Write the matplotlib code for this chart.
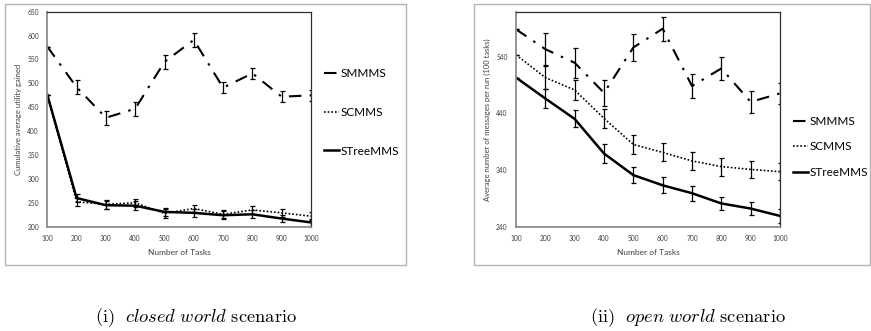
import matplotlib.pyplot as plt
from matplotlib.patches import Rectangle
from matplotlib.lines import Line2D

plt.rcParams['font.family'] = ['Lato', 'DejaVu Sans']
plt.rcParams['mathtext.fontset'] = 'cm'

tareas = [100, 200, 300, 400, 500, 600, 700, 800, 900, 1000]
series = ["SMMMS", "SCMMS", "STreeMMS"]

# (i) mundo cerrado
cerrado_smmms = [577, 492, 428, 447, 545, 591, 491, 521, 472, 475]
cerrado_smmms_err = [0, 15, 15, 15, 14, 14, 12, 12, 12, 12]
cerrado_scmms = [476, 252, 247, 250, 228, 238, 226, 235, 229, 222]
cerrado_scmms_err = [0, 9, 9, 9, 9, 8, 8, 8, 8, 8]
cerrado_stree = [476, 260, 245, 244, 231, 229, 224, 226, 217, 209]
cerrado_stree_err = [0, 9, 9, 9, 9, 8, 8, 8, 8, 8]

# (ii) mundo abierto
abierto_smmms = [588, 553, 529, 476, 556, 589, 488, 519, 460, 475]
abierto_smmms_err = [0, 28, 26, 23, 23, 21, 21, 20, 19, 18]
abierto_scmms = [543, 503, 481, 431, 385, 371, 356, 346, 341, 337]
abierto_scmms_err = [0, 20, 18, 17, 16, 16, 16, 16, 15, 15]
abierto_stree = [503, 466, 430, 369, 331, 313, 299, 281, 272, 259]
abierto_stree_err = [0, 16, 15, 16, 14, 14, 13, 12, 12, 12]

estilos = {
    "SMMMS": dict(linestyle=(0, (6, 4, 1.2, 4)), linewidth=1.5),
    "SCMMS": dict(linestyle=(0, (1, 1.2)), linewidth=1.2),
    "STreeMMS": dict(linestyle="-", linewidth=1.8),
}

fig = plt.figure(figsize=(8.71, 3.31), dpi=100)

# marcos grises alrededor de cada grafica
fig.patches.append(Rectangle((5 / 871, 1 - 265 / 331), 401 / 871, 261 / 331,
                             transform=fig.transFigure, fill=False,
                             edgecolor="#b4b4b4", linewidth=1))
fig.patches.append(Rectangle((474 / 871, 1 - 265 / 331), 396 / 871, 261 / 331,
                             transform=fig.transFigure, fill=False,
                             edgecolor="#b4b4b4", linewidth=1))


def graficar(ax, datos, ylim, yticks, ylabel):
    for nombre, (vals, err) in zip(series, datos):
        ax.errorbar(tareas, vals, yerr=err, color="black", capsize=1.8,
                    elinewidth=0.9, capthick=0.9, **estilos[nombre])
    ax.set_xlim(100, 1000)
    ax.set_ylim(*ylim)
    ax.set_xticks(tareas)
    ax.set_yticks(yticks)
    ax.tick_params(length=0, labelsize=4.8, colors="#404040", pad=6)
    ax.set_xlabel("Number of Tasks", fontsize=6, color="#404040", labelpad=5)
    ax.set_ylabel(ylabel, fontsize=5.5, color="#404040", labelpad=4)
    for s in ax.spines.values():
        s.set_color("#303030")
        s.set_linewidth(0.9)
    ax.spines["left"].set_color("#8c8c8c")
    ax.spines["bottom"].set_color("#8c8c8c")
    ax.spines["left"].set_linewidth(1.3)
    ax.spines["bottom"].set_linewidth(1.3)


def leyenda(ax, y, espacio):
    manejadores = [Line2D([], [], color="black", **estilos[n]) for n in series]
    ax.legend(manejadores, series, loc="upper left", bbox_to_anchor=(1.03, y),
              frameon=False, fontsize=8.5, handlelength=1.3, handletextpad=0.15,
              labelspacing=espacio, borderaxespad=0)


ax1 = fig.add_axes([47.3 / 871, 1 - 226.7 / 331, 263.7 / 871, 215 / 331])
graficar(ax1, [(cerrado_smmms, cerrado_smmms_err),
               (cerrado_scmms, cerrado_scmms_err),
               (cerrado_stree, cerrado_stree_err)],
         (200, 650), range(200, 651, 50), "Cumulative average utility gained")
leyenda(ax1, 0.76, 2.35)

ax2 = fig.add_axes([516 / 871, 1 - 226.7 / 331, 264 / 871, 214.4 / 331])
graficar(ax2, [(abierto_smmms, abierto_smmms_err),
               (abierto_scmms, abierto_scmms_err),
               (abierto_stree, abierto_stree_err)],
         (240, 618), [240, 340, 440, 540], "Average number of messages per run (100 tasks)")
leyenda(ax2, 0.54, 1.25)

fig.text(196 / 871, 1 - 318 / 331, r"$\mathrm{(i)}\ \ \mathit{closed\ world}\ \mathrm{scenario}$",
         ha="center", va="center", fontsize=13.3)
fig.text(688 / 871, 1 - 318 / 331, r"$\mathrm{(ii)}\ \ \mathit{open\ world}\ \mathrm{scenario}$",
         ha="center", va="center", fontsize=13.3)

fig.savefig("out.png", dpi=100)
